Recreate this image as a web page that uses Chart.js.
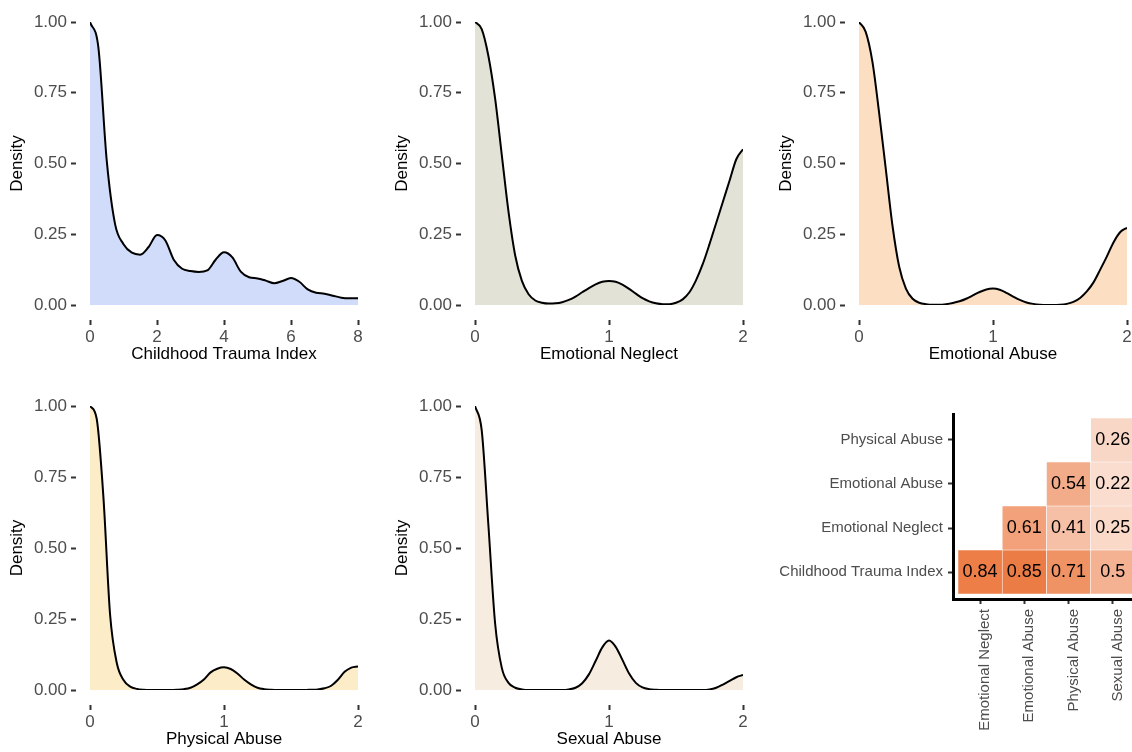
<!DOCTYPE html>
<html>
<head>
<meta charset="utf-8">
<script src="https://cdn.jsdelivr.net/npm/chart.js@4.4.1/dist/chart.umd.min.js"></script>
<style>
  html, body { margin: 0; padding: 0; background: #fff; }
  body { width: 1132px; height: 752px; overflow: hidden; position: relative; }
  canvas { position: absolute; }
</style>
</head>
<body>
<canvas id="cti" width="377" height="376" style="left:0px;top:0px"></canvas>
<canvas id="neglect" width="377" height="376" style="left:385px;top:0px"></canvas>
<canvas id="emoAbuse" width="377" height="376" style="left:769px;top:0px"></canvas>
<canvas id="physAbuse" width="377" height="372" style="left:0px;top:380px"></canvas>
<canvas id="sexAbuse" width="377" height="372" style="left:385px;top:380px"></canvas>
<canvas id="corr" width="400" height="352" style="left:760px;top:400px"></canvas>
<script>
// density curves (scaled so the peak is 1)
const xCti = [0, 0.25, 0.5, 0.75, 1, 1.25, 1.5, 1.75, 2, 2.25, 2.5, 2.75, 3, 3.25, 3.5, 3.75,
  4, 4.25, 4.5, 4.75, 5, 5.25, 5.5, 5.75, 6, 6.25, 6.5, 6.75, 7, 7.25, 7.5, 7.75, 8];
const densCti = [1.000, 0.910, 0.510, 0.285, 0.215, 0.185, 0.178, 0.205, 0.247, 0.228, 0.160, 0.128,
  0.120, 0.117, 0.122, 0.160, 0.186, 0.168, 0.118, 0.098, 0.094, 0.086, 0.077, 0.085, 0.095, 0.082,
  0.055, 0.043, 0.040, 0.033, 0.026, 0.024, 0.024];

const xItem = [0, 0.05, 0.1, 0.15, 0.2, 0.25, 0.3, 0.35, 0.4, 0.45, 0.5, 0.55, 0.6, 0.65, 0.7, 0.75,
  0.8, 0.85, 0.9, 0.95, 1, 1.05, 1.1, 1.15, 1.2, 1.25, 1.3, 1.35, 1.4, 1.45, 1.5, 1.55, 1.6, 1.65,
  1.7, 1.75, 1.8, 1.85, 1.9, 1.95, 2];
const densNeglect = [1.000, 0.975, 0.880, 0.730, 0.530, 0.330, 0.175, 0.085, 0.038, 0.016, 0.008,
  0.005, 0.006, 0.010, 0.018, 0.030, 0.045, 0.060, 0.073, 0.082, 0.085, 0.082, 0.072, 0.057, 0.040,
  0.024, 0.013, 0.006, 0.003, 0.003, 0.008, 0.020, 0.045, 0.088, 0.145, 0.215, 0.290, 0.365, 0.440,
  0.515, 0.550];
const densEmoAbuse = [1.000, 0.965, 0.860, 0.680, 0.480, 0.280, 0.135, 0.058, 0.022, 0.008, 0.003,
  0.001, 0.001, 0.003, 0.007, 0.013, 0.022, 0.034, 0.046, 0.055, 0.058, 0.054, 0.043, 0.030, 0.018,
  0.009, 0.004, 0.001, 0.000, 0.000, 0.001, 0.004, 0.011, 0.025, 0.048, 0.080, 0.125, 0.172, 0.222,
  0.258, 0.273];
const densPhysAbuse = [1.000, 0.955, 0.680, 0.265, 0.095, 0.035, 0.012, 0.004, 0.001, 0.000, 0.000,
  0.000, 0.000, 0.001, 0.003, 0.008, 0.020, 0.037, 0.062, 0.075, 0.080, 0.074, 0.058, 0.037, 0.020,
  0.008, 0.003, 0.001, 0.000, 0.000, 0.000, 0.000, 0.000, 0.001, 0.002, 0.006, 0.015, 0.036, 0.064,
  0.079, 0.083];
const densSexAbuse = [1.000, 0.915, 0.580, 0.235, 0.078, 0.025, 0.008, 0.002, 0.000, 0.000, 0.000,
  0.000, 0.000, 0.000, 0.002, 0.008, 0.024, 0.055, 0.102, 0.150, 0.174, 0.152, 0.106, 0.058, 0.025,
  0.009, 0.003, 0.001, 0.000, 0.000, 0.000, 0.000, 0.000, 0.000, 0.000, 0.002, 0.008, 0.019, 0.032,
  0.045, 0.053];

const ctiTicks = [0, 2, 4, 6, 8];
const ctiGrid = [0, 1, 2, 3, 4, 5, 6, 7, 8];
const itemTicks = [0, 1, 2];
const itemGrid = [0, 0.5, 1, 1.5, 2];
const densityTicks = [0, 0.25, 0.5, 0.75, 1];
const densityGrid = [0, 0.125, 0.25, 0.375, 0.5, 0.625, 0.75, 0.875, 1];

// correlation matrix (lower triangle)
const corrCols = ['Emotional Neglect', 'Emotional Abuse', 'Physical Abuse', 'Sexual Abuse'];
const corrRows = ['Childhood Trauma Index', 'Emotional Neglect', 'Emotional Abuse', 'Physical Abuse'];
const corrValues = [
  [0.84, 0.85, 0.71, 0.5],
  [null, 0.61, 0.41, 0.25],
  [null, null, 0.54, 0.22],
  [null, null, null, 0.26]
];

Chart.defaults.font.family = '"Liberation Sans", Arial, Helvetica, sans-serif';

const isIn = (arr, v) => arr.some(a => Math.abs(a - v) < 1e-9);

function densityPlot(id, title, xs, ys, fill, xTicks, xGrid, padTop, padBottom) {
  const pts = xs.map((x, i) => ({x: x, y: ys[i]}));
  const gridColor = 'rgba(255,255,255,0.35)';
  new Chart(document.getElementById(id), {
    type: 'line',
    data: {
      datasets: [{
        data: pts,
        borderColor: '#000',
        borderWidth: 2,
        backgroundColor: fill,
        fill: 'origin',
        pointRadius: 0,
        cubicInterpolationMode: 'monotone'
      }]
    },
    options: {
      responsive: false,
      animation: false,
      events: [],
      layout: {padding: {left: 0, top: padTop, right: 19, bottom: padBottom}},
      plugins: {legend: {display: false}, tooltip: {enabled: false}},
      scales: {
        x: {
          type: 'linear',
          min: xTicks[0],
          max: xTicks[xTicks.length - 1],
          z: 1,
          border: {display: false},
          afterBuildTicks: s => { s.ticks = xGrid.map(v => ({value: v})); },
          afterFit: s => { s.height = 60; },
          grid: {
            color: gridColor,
            tickLength: 20,
            tickWidth: 2,
            tickBorderDash: [0, 15, 5, 30],
            tickColor: c => isIn(xTicks, c.tick.value) ? '#333' : 'rgba(0,0,0,0)'
          },
          ticks: {
            autoSkip: false,
            maxRotation: 0,
            padding: 2,
            color: '#4D4D4D',
            font: {size: 17},
            callback: v => isIn(xTicks, v) ? String(v) : ''
          },
          title: {display: true, text: title, color: '#000', font: {size: 17}, padding: {top: 0, bottom: 0}}
        },
        y: {
          min: 0,
          max: 1,
          z: 1,
          border: {display: false},
          afterBuildTicks: s => { s.ticks = densityGrid.map(v => ({value: v})); },
          afterFit: s => { s.width = 90; },
          grid: {
            color: gridColor,
            tickLength: 19,
            tickWidth: 2,
            tickBorderDash: [5, 30],
            tickColor: c => isIn(densityTicks, c.tick.value) ? '#333' : 'rgba(0,0,0,0)'
          },
          ticks: {
            autoSkip: false,
            padding: 4,
            color: '#4D4D4D',
            font: {size: 17},
            callback: v => isIn(densityTicks, v) ? v.toFixed(2) : ''
          },
          title: {display: true, text: 'Density', color: '#000', font: {size: 17}, padding: {top: 7, bottom: 0}}
        }
      }
    }
  });
}

densityPlot('cti', 'Childhood Trauma Index', xCti, densCti, '#D0DCFA', ctiTicks, ctiGrid, 22, 11);
densityPlot('neglect', 'Emotional Neglect', xItem, densNeglect, '#E3E2D6', itemTicks, itemGrid, 22, 11);
densityPlot('emoAbuse', 'Emotional Abuse', xItem, densEmoAbuse, '#FCDFC3', itemTicks, itemGrid, 22, 11);
densityPlot('physAbuse', 'Physical Abuse', xItem, densPhysAbuse, '#FDECC8', itemTicks, itemGrid, 26, 2);
densityPlot('sexAbuse', 'Sexual Abuse', xItem, densSexAbuse, '#F7ECE0', itemTicks, itemGrid, 26, 2);

// heatmap cells as floating bars
const cells = [];
corrRows.forEach((row, r) => {
  corrValues[r].forEach((v, c) => {
    if (v !== null) cells.push({x: c, y: [r - 0.5, r + 0.5], v: v});
  });
});

function cellColor(v) {
  const mix = a => Math.round(255 - (255 - a) * v);
  return 'rgb(' + mix(233) + ',' + mix(101) + ',' + mix(37) + ')';
}

const cellText = {
  id: 'cellText',
  afterDatasetsDraw(chart) {
    const ctx = chart.ctx;
    ctx.save();
    ctx.font = '18px "Liberation Sans", Arial, sans-serif';
    ctx.fillStyle = '#000';
    ctx.textAlign = 'center';
    ctx.textBaseline = 'middle';
    chart.getDatasetMeta(0).data.forEach((bar, i) => {
      ctx.fillText(String(cells[i].v), bar.x, (bar.y + bar.base) / 2);
    });
    ctx.restore();
  }
};

new Chart(document.getElementById('corr'), {
  type: 'bar',
  data: {
    datasets: [{
      data: cells,
      backgroundColor: cells.map(c => cellColor(c.v)),
      borderColor: '#fff',
      borderWidth: 0.6,
      borderSkipped: false,
      barPercentage: 1,
      categoryPercentage: 1
    }]
  },
  options: {
    responsive: false,
    animation: false,
    events: [],
    layout: {padding: {left: 0, top: 13, right: 18, bottom: 0}},
    plugins: {legend: {display: false}, tooltip: {enabled: false}},
    scales: {
      x: {
        type: 'linear',
        min: -0.613,
        max: 3.66,
        offset: false,
        afterBuildTicks: s => { s.ticks = corrCols.map((_, i) => ({value: i})); },
        afterFit: s => { s.height = 153; },
        border: {display: true, color: '#000', width: 3},
        grid: {drawOnChartArea: false, offset: false, tickLength: 5, tickWidth: 2, tickColor: '#333'},
        ticks: {
          autoSkip: false,
          minRotation: 90,
          maxRotation: 90,
          padding: 5,
          labelOffset: 5,
          color: '#4D4D4D',
          font: {size: 15},
          callback: v => corrCols[v]
        }
      },
      y: {
        type: 'linear',
        min: -0.613,
        max: 3.59,
        afterBuildTicks: s => { s.ticks = corrRows.map((_, i) => ({value: i})); },
        afterFit: s => { s.width = 193; },
        border: {display: true, color: '#000', width: 3},
        grid: {drawOnChartArea: false, tickLength: 5, tickWidth: 2, tickColor: '#333'},
        ticks: {
          autoSkip: false,
          padding: 5,
          color: '#4D4D4D',
          font: {size: 15},
          callback: v => corrRows[v]
        }
      }
    }
  },
  plugins: [cellText]
});
</script>
</body>
</html>
